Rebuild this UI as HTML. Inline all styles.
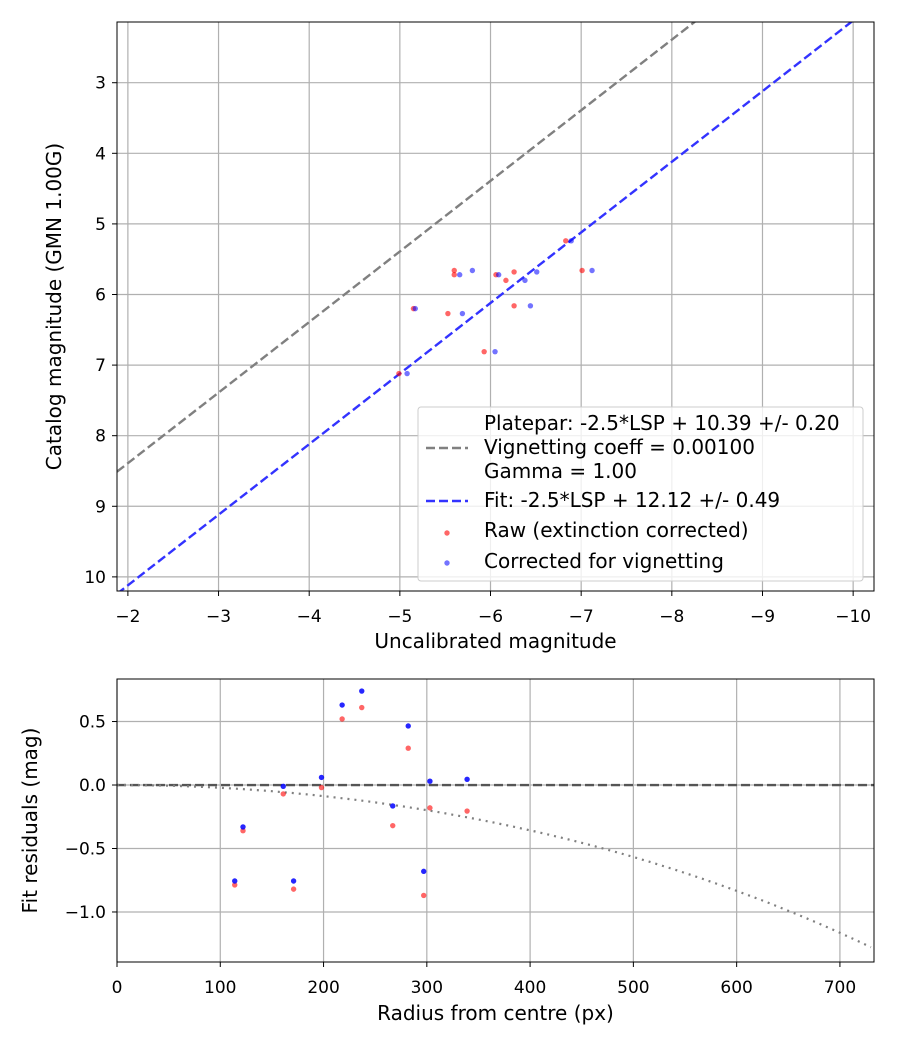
<!DOCTYPE html>
<html><head><meta charset="utf-8"><style>
body{margin:0;background:#fff}
svg{display:block;font-family:"DejaVu Sans","Liberation Sans",sans-serif}
</style></head><body>
<svg id="fig" width="900" height="1050" viewBox="0 0 900 1050" xmlns="http://www.w3.org/2000/svg"></svg>
<script>
// ---- Top chart data ----
const rawX = [-6.83,-7.01,-5.60,-5.60,-6.06,-6.26,-6.17,-5.15,-5.53,-6.26,-5.93,-4.99];
const rawY = [5.24,5.66,5.66,5.72,5.72,5.68,5.80,6.20,6.27,6.16,6.81,7.12];
const corX = [-6.89,-7.12,-5.80,-5.66,-6.09,-6.51,-6.38,-5.17,-5.69,-6.44,-6.05,-5.08];
const corY = [5.24,5.66,5.66,5.72,5.72,5.68,5.80,6.20,6.27,6.16,6.81,7.12];
const plateOffset = [10.39];
const fitOffset = [12.12];
const topXTicks = [-2,-3,-4,-5,-6,-7,-8,-9,-10];
const topYTicks = [3,4,5,6,7,8,9,10];
// ---- Bottom chart data ----
const radius = [114,122,161,171,198,218,237,267,282,297,303,339];
const resRaw = [-0.787,-0.36,-0.07,-0.82,-0.02,0.52,0.61,-0.32,0.29,-0.87,-0.18,-0.205];
const resCor = [-0.756,-0.33,-0.01,-0.756,0.06,0.63,0.74,-0.165,0.465,-0.68,0.03,0.045];
const vignCoeff = [0.001];
const botXTicks = [0,100,200,300,400,500,600,700];
const botYTicks = [0.5,0.0,-0.5,-1.0];

const svg = document.getElementById('fig');
const NS = 'http://www.w3.org/2000/svg';
function mk(tag, attrs, parent){const e=document.createElementNS(NS,tag);for(const k in attrs)e.setAttribute(k,attrs[k]);(parent||svg).appendChild(e);return e;}
const TICK=17, TITLE=20, LEG=20;

const T = {l:117,r:874,t:22,b:591,x0:-1.88,x1:-10.23,y0:2.14,y1:10.2};
const tx = v => T.l + (v - T.x0)/(T.x1 - T.x0)*(T.r - T.l);
const ty = v => T.t + (v - T.y0)/(T.y1 - T.y0)*(T.b - T.t);
const B = {l:117,r:874,t:679,b:962,x0:0,x1:733,y0:0.835,y1:-1.394};
const bx = v => B.l + (v - B.x0)/(B.x1 - B.x0)*(B.r - B.l);
const by = v => B.t + (v - B.y0)/(B.y1 - B.y0)*(B.b - B.t);

const defs = mk('defs',{});
const c1=document.createElementNS(NS,'clipPath');c1.setAttribute('id','ct');defs.appendChild(c1);mk('rect',{x:T.l,y:T.t,width:T.r-T.l,height:T.b-T.t},c1);
const c2=document.createElementNS(NS,'clipPath');c2.setAttribute('id','cb');defs.appendChild(c2);mk('rect',{x:B.l,y:B.t,width:B.r-B.l,height:B.b-B.t},c2);

topXTicks.forEach(v=>{
  const g=mk('line',{x1:tx(v),x2:tx(v),y1:T.t,y2:T.b,stroke:'#b0b0b0','stroke-width':1.2});
  
  mk('line',{x1:tx(v),x2:tx(v),y1:T.b,y2:T.b+5,stroke:'#000'});
  const t=mk('text',{x:tx(v),y:T.b+31,'text-anchor':'middle','font-size':TICK});
  t.textContent=(v<0?'\u2212'+(-v):v);
  
});
topYTicks.forEach(v=>{
  const g=mk('line',{x1:T.l,x2:T.r,y1:ty(v),y2:ty(v),stroke:'#b0b0b0','stroke-width':1.2});
  
  mk('line',{x1:T.l-5,x2:T.l,y1:ty(v),y2:ty(v),stroke:'#000'});
  const t=mk('text',{x:T.l-11,y:ty(v)+6,'text-anchor':'end','font-size':TICK});
  t.textContent=v;
  
});
const gt = mk('g',{'clip-path':'url(#ct)'});

const pl=mk('line',{x1:tx(T.x0),y1:ty(T.x0+plateOffset[0]),x2:tx(T.x1),y2:ty(T.x1+plateOffset[0]),stroke:'#808080','stroke-width':2.4,'stroke-dasharray':'9,4'},gt);

const fl=mk('line',{x1:tx(T.x0),y1:ty(T.x0+fitOffset[0]),x2:tx(T.x1),y2:ty(T.x1+fitOffset[0]),stroke:'#3333ff','stroke-width':2.4,'stroke-dasharray':'9,4'},gt);

rawX.forEach((x,i)=>{const p=mk('circle',{cx:tx(x),cy:ty(rawY[i]),r:2.7,fill:'rgba(255,0,0,0.6)'},gt);
  });
corX.forEach((x,i)=>{const p=mk('circle',{cx:tx(x),cy:ty(corY[i]),r:2.7,fill:'rgba(0,0,255,0.55)'},gt);
  });
mk('rect',{x:T.l,y:T.t,width:T.r-T.l,height:T.b-T.t,fill:'none',stroke:'#000','stroke-width':1});
let a=mk('text',{x:(T.l+T.r)/2,y:648,'text-anchor':'middle','font-size':TITLE});a.textContent='Uncalibrated magnitude';

a=mk('text',{x:0,y:0,'text-anchor':'middle','font-size':TITLE,transform:'translate(61,'+((T.t+T.b)/2)+') rotate(-90)'});a.textContent='Catalog magnitude (GMN 1.00G)';


const lg=mk('g',{});
mk('rect',{x:418,y:407,width:445,height:174,rx:3,fill:'rgba(255,255,255,0.8)',stroke:'#ccc'},lg);
const lt=(y,s)=>{const t=mk('text',{x:484,y:y,'font-size':LEG},lg);t.textContent=s;};
lt(430,'Platepar: -2.5*LSP + 10.39 +/- 0.20');
lt(454,'Vignetting coeff = 0.00100');
lt(478,'Gamma = 1.00');
lt(507,'Fit: -2.5*LSP + 12.12 +/- 0.49');
lt(537,'Raw (extinction corrected)');
lt(568,'Corrected for vignetting');
mk('line',{x1:426,x2:468,y1:448,y2:448,stroke:'#808080','stroke-width':2.4,'stroke-dasharray':'9,4'},lg);
mk('line',{x1:426,x2:468,y1:501,y2:501,stroke:'#3333ff','stroke-width':2.4,'stroke-dasharray':'9,4'},lg);
mk('circle',{cx:447,cy:533,r:2.7,fill:'rgba(255,0,0,0.6)'},lg);
mk('circle',{cx:447,cy:563,r:2.7,fill:'rgba(0,0,255,0.55)'},lg);

botXTicks.forEach(v=>{
  const g=mk('line',{x1:bx(v),x2:bx(v),y1:B.t,y2:B.b,stroke:'#b0b0b0','stroke-width':1.2});
  
  mk('line',{x1:bx(v),x2:bx(v),y1:B.b,y2:B.b+5,stroke:'#000'});
  const t=mk('text',{x:bx(v),y:B.b+31,'text-anchor':'middle','font-size':TICK});t.textContent=v;
  
});
botYTicks.forEach(v=>{
  const g=mk('line',{x1:B.l,x2:B.r,y1:by(v),y2:by(v),stroke:'#b0b0b0','stroke-width':1.2});
  
  mk('line',{x1:B.l-5,x2:B.l,y1:by(v),y2:by(v),stroke:'#000'});
  const t=mk('text',{x:B.l-11,y:by(v)+6,'text-anchor':'end','font-size':TICK});
  t.textContent=(v<0?'\u2212'+(-v).toFixed(1):v.toFixed(1));
  
});
const gb=mk('g',{'clip-path':'url(#cb)'});

const zl=mk('line',{x1:B.l,x2:B.r,y1:by(0),y2:by(0),stroke:'#555','stroke-width':2.4,'stroke-dasharray':'9,4'},gb);

let d='';
for(let r=0;r<=B.x1;r+=5){const th=r*vignCoeff[0];const m=2.5*Math.log10(Math.pow(Math.cos(th),4));d+=(r?'L':'M')+bx(r).toFixed(1)+','+by(m).toFixed(1);}
const vc=mk('path',{d:d,fill:'none',stroke:'#808080','stroke-width':2.2,'stroke-dasharray':'2,5'},gb);

radius.forEach((r,i)=>{const p=mk('circle',{cx:bx(r),cy:by(resRaw[i]),r:2.7,fill:'rgba(255,0,0,0.6)'},gb);
  });
radius.forEach((r,i)=>{const p=mk('circle',{cx:bx(r),cy:by(resCor[i]),r:2.7,fill:'rgba(0,0,255,0.85)'},gb);
  });
mk('rect',{x:B.l,y:B.t,width:B.r-B.l,height:B.b-B.t,fill:'none',stroke:'#000','stroke-width':1});
a=mk('text',{x:(B.l+B.r)/2,y:1020,'text-anchor':'middle','font-size':TITLE});a.textContent='Radius from centre (px)';

a=mk('text',{x:0,y:0,'text-anchor':'middle','font-size':TITLE,transform:'translate(37,'+((B.t+B.b)/2)+') rotate(-90)'});a.textContent='Fit residuals (mag)';

</script>
</body></html>
